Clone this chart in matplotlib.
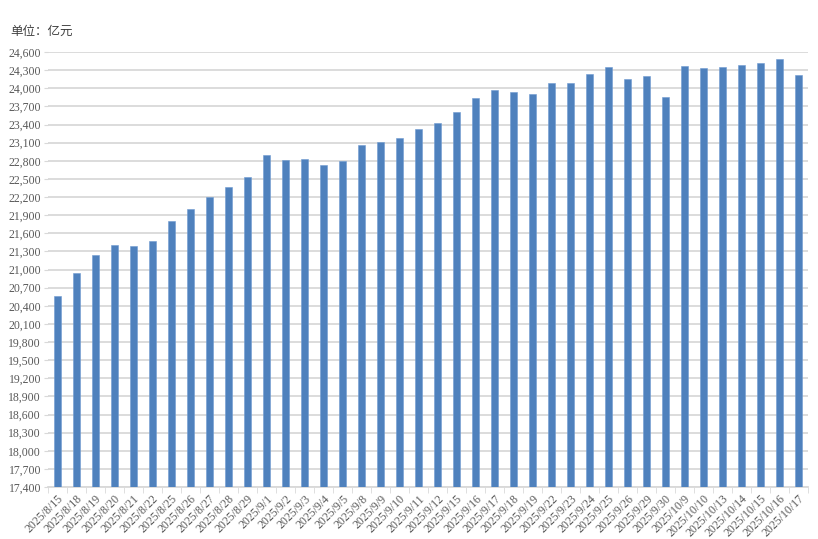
import matplotlib
matplotlib.use("Agg")
import matplotlib.pyplot as plt
import numpy as np

# ---------------------------------------------------------
# Data
# ---------------------------------------------------------
dates = [
    "2025/8/15", "2025/8/18", "2025/8/19", "2025/8/20", "2025/8/21",
    "2025/8/22", "2025/8/25", "2025/8/26", "2025/8/27", "2025/8/28",
    "2025/8/29", "2025/9/1", "2025/9/2", "2025/9/3", "2025/9/4",
    "2025/9/5", "2025/9/8", "2025/9/9", "2025/9/10", "2025/9/11",
    "2025/9/12", "2025/9/15", "2025/9/16", "2025/9/17", "2025/9/18",
    "2025/9/19", "2025/9/22", "2025/9/23", "2025/9/24", "2025/9/25",
    "2025/9/26", "2025/9/29", "2025/9/30", "2025/10/9", "2025/10/10",
    "2025/10/13", "2025/10/14", "2025/10/15", "2025/10/16", "2025/10/17",
]
values = [
    20557, 20942, 21247, 21401, 21384,
    21478, 21809, 22008, 22195, 22361,
    22537, 22895, 22807, 22824, 22724,
    22796, 23056, 23110, 23172, 23326,
    23425, 23614, 23839, 23966, 23945,
    23900, 24087, 24087, 24231, 24358,
    24160, 24198, 23855, 24375, 24330,
    24358, 24391, 24418, 24491, 24214,
]
y_ticks = list(range(17400, 24601, 300))

# ---------------------------------------------------------
# Figure
# ---------------------------------------------------------
fig = plt.figure(figsize=(8.18, 5.39), dpi=100)
ax = fig.add_axes([48 / 818, 1 - 487 / 539, 760 / 818, 435 / 539])

x = np.arange(len(dates))
ax.bar(x, values, width=0.32, color="#4f81bd", edgecolor="#6f9bd1",
       linewidth=0.4, zorder=3)

ax.set_ylim(17400, 24600)
ax.set_xlim(-0.5, len(dates) - 0.5)

# y axis
ax.set_yticks(y_ticks)
ax.set_yticklabels([f"{v:,}" for v in y_ticks], family="Liberation Serif",
                   fontsize=8.5, color="#595959")
ax.yaxis.grid(True, color="#d9d9d9", linewidth=1.3, zorder=0)
ax.tick_params(axis="y", length=3, color="#d9d9d9", pad=2)

# x axis: labels at bar centres, tick marks between categories
ax.set_xticks(x)
ax.set_xticklabels(dates, rotation=45, ha="right", rotation_mode="anchor",
                   family="Liberation Serif", fontsize=8.5, color="#595959")
ax.tick_params(axis="x", which="major", length=0, pad=4)
ax.set_xticks(np.arange(-0.5, len(dates), 1), minor=True)
ax.tick_params(axis="x", which="minor", length=4, color="#d9d9d9")

for side in ["top", "right", "left"]:
    ax.spines[side].set_visible(False)
ax.spines["bottom"].set_color("#d9d9d9")
ax.spines["bottom"].set_linewidth(1.3)

# unit label
fig.text(10 / 818, 1 - 31 / 539, "单位：亿元", family=["Noto Sans CJK SC", "DejaVu Sans"],
         fontsize=9, color="#404040", va="center", ha="left")

fig.savefig("out.png", dpi=100)
